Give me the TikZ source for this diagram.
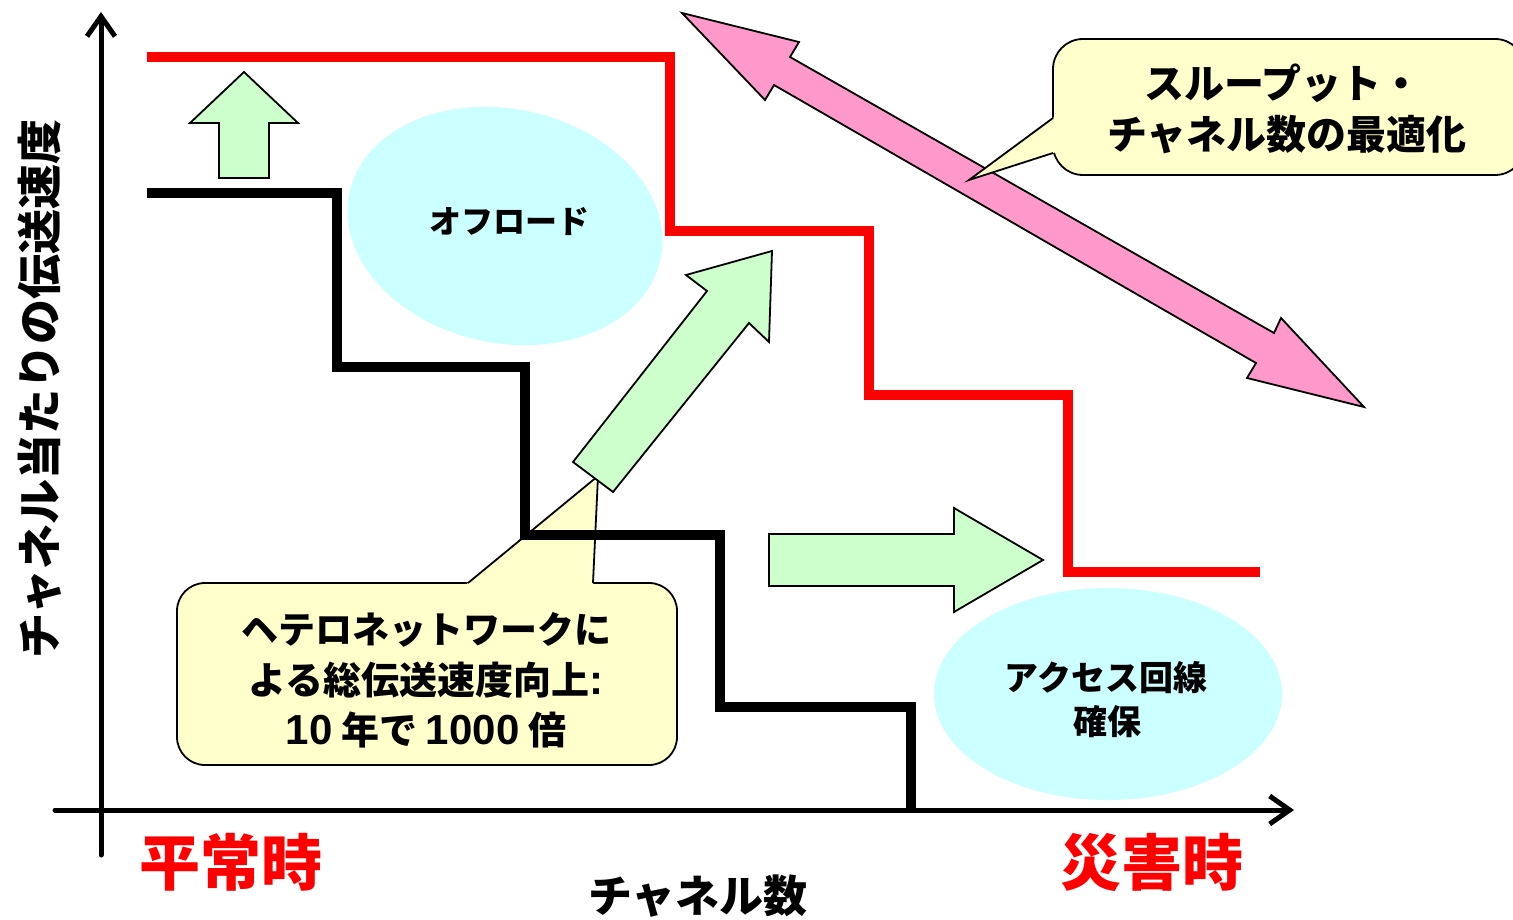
\documentclass[tikz,border=0pt]{standalone}
\usepackage{fontspec}
\setmainfont{Noto Sans CJK JP}
\newfontfamily\lat{Liberation Sans}
\usetikzlibrary{arrows.meta}
\definecolor{arrowgreen}{HTML}{CCFFCC}
\definecolor{arrowpink}{HTML}{FF99CC}
\definecolor{ellcyan}{HTML}{CCFFFF}
\definecolor{bubbleyellow}{HTML}{FFFFCC}
\newcommand\myfs[1]{\fontsize{#1}{#1}\selectfont}
\begin{document}
\begin{tikzpicture}[x=1pt,y=-1pt,
  axisline/.style={draw=black, line width=5, line cap=round, -{Straight Barb[length=20pt,width=28pt]}},
  redstep/.style={draw=red, line width=10, line join=miter},
  blackstep/.style={draw=black, line width=10, line join=miter},
  fatarrow/.style={draw=black, line width=1.8, line join=miter},
  greenarrow/.style={fatarrow, fill=arrowgreen},
  pinkarrow/.style={fatarrow, fill=arrowpink},
  bubble/.style={fill=bubbleyellow, draw=black, line width=1.8, inner sep=0},
  bubbletip/.style={draw=black, line width=1.8, line join=miter},
  lbl/.style={font=\bfseries\myfs{#1}, inner sep=0, text=black},
  redlbl/.style={font=\bfseries\myfs{#1}, inner sep=0, text=red}]
\clip (0,0) rectangle (1513,920);
\fill[white] (0,0) rectangle (1513,920);

% ellipses
\fill[ellcyan, rotate around={-12:(505,226)}] (505,226) ellipse [x radius=159, y radius=117];
\fill[ellcyan] (1108,694) ellipse [x radius=174, y radius=106];

% callout 2 (heterogeneous network)
\node[bubble, minimum width=500, minimum height=182, rounded corners=28] (cb2) at (427,674) {};
\coordinate (cb2tip) at (598,476);
\fill[bubbleyellow] (464.4,586) -- (cb2tip) -- (592.9,586) -- cycle;
\draw[bubbletip] (468,583) -- (cb2tip) -- (593,583);

% step lines
\coordinate (r0) at (147,57);
\coordinate (r7) at (1260,572);
\draw[redstep] (r0) -- (670,57) -- (670,231) -- (869,231) -- (869,395) -- (1068,395) -- (1068,572) -- (r7);
\coordinate (b0) at (147,193);
\coordinate (b8) at (911,810);
\draw[blackstep] (b0) -- (337,193) -- (337,367) -- (525,367) -- (525,535) -- (720,535) -- (720,707) -- (911,707) -- (b8);

% axes
\coordinate (yb) at (101,855);
\coordinate (yt) at (101,12);
\coordinate (xl) at (55,810);
\coordinate (xr) at (1294,810);
\draw[axisline] (yb) -- (yt);
\draw[axisline] (xl) -- (xr);

% green arrows
\draw[greenarrow] (244,72) -- (298,123) -- (269,123) -- (269,178) -- (219,178) -- (219,123) -- (190,123) -- cycle;
\draw[greenarrow] (772,251) -- (769,342) -- (749,323) -- (613,492) -- (573,462) -- (707,291) -- (686,275) -- cycle;
\draw[greenarrow] (769,534) -- (954,534) -- (954,508) -- (1043,560) -- (954,612) -- (954,586) -- (769,586) -- cycle;

% pink double arrow
\draw[pinkarrow] (682,13) -- (799,42) -- (790,57) -- (1274,333) -- (1281,318) -- (1364,407) -- (1247,378) -- (1256,363) -- (774,85) -- (765,100) -- cycle;

% callout 1 (throughput)
\node[bubble, minimum width=472, minimum height=136, rounded corners=30] (cb1) at (1289,107) {};
\coordinate (cb1tip) at (969,180);
\fill[bubbleyellow] (1056,115.8) -- (cb1tip) -- (1056,152.1) -- cycle;
\draw[bubbletip] (1053,118) -- (cb1tip) -- (1053,153);

% texts
\node[lbl=40] (thr1) at (1283,83) {スループット・};
\node[lbl=40] (thr2) at (1287,135) {チャネル数の最適化};
\node[lbl=37] (het1) at (426,630) {ヘテロネットワークに};
\node[lbl=38] (het2) at (426,680) {よる総伝送速度向上{\lat\myfs{42}:}};
\node[lbl=38] (het3) at (426,730) {{\lat\myfs{42}10} 年で {\lat\myfs{42}1000} 倍};
\node[lbl=32] (offload) at (509,222) {オフロード};
\node[lbl=34] (access1) at (1106,678) {アクセス回線};
\node[lbl=34] (access2) at (1107,722) {確保};
\node[lbl=45, rotate=90] (ylab) at (40,389) {チャネル当たりの伝送速度};
\node[lbl=44] (xlab) at (698,896) {チャネル数};
\node[redlbl=61] (normal) at (231,862) {平常時};
\node[redlbl=61] (disaster) at (1152,862) {災害時};
\end{tikzpicture}
\end{document}
